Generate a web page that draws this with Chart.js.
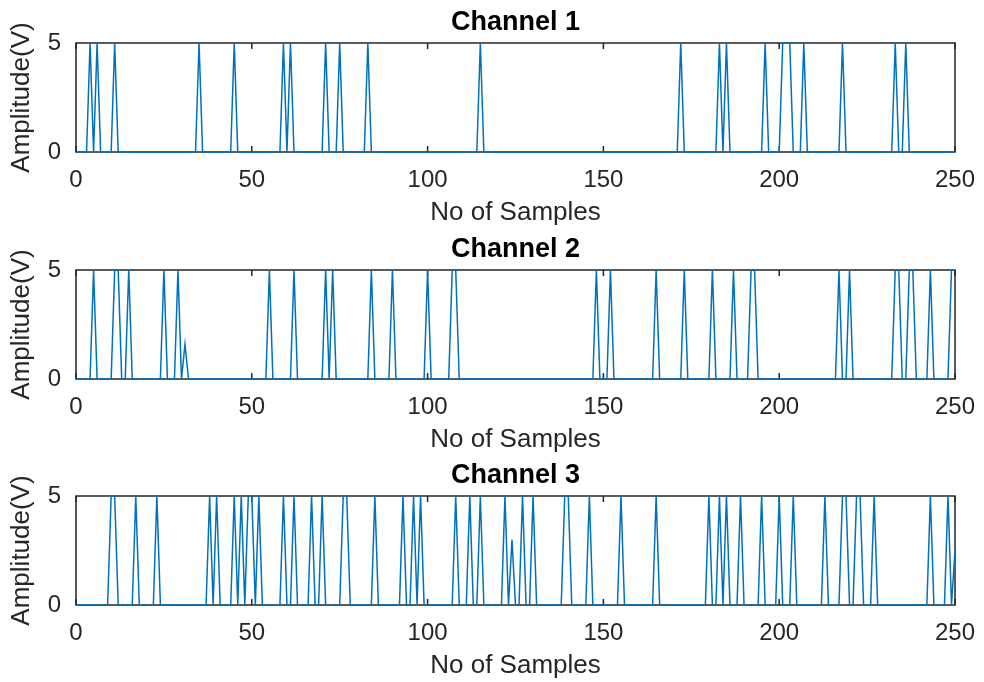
<!DOCTYPE html>
<html>
<head>
<meta charset="utf-8">
<script src="https://cdn.jsdelivr.net/npm/chart.js@4.4.1/dist/chart.umd.min.js"></script>
<style>
  html, body { margin: 0; padding: 0; background: #fff; }
  .panel { position: absolute; left: 0; width: 984px; height: 226px; }
</style>
</head>
<body>
<div class="panel" style="top:0px"><canvas id="ch1"></canvas></div>
<div class="panel" style="top:227px"><canvas id="ch2"></canvas></div>
<div class="panel" style="top:453px"><canvas id="ch3"></canvas></div>
<script>
// Eixo e rótulos
const lastSample = 250;
const xTicks = [0, 50, 100, 150, 200, 250];
const yTicks = [0, 5];
const channelNames = ["Channel 1", "Channel 2", "Channel 3"];

// Amostras em nível alto (5 V)
const ch1Peaks = [4, 6, 11, 35, 45, 59, 61, 71, 75, 83, 115, 172, 183, 185, 196,
  201, 202, 203, 207, 218, 233, 236];
const ch2Peaks = [5, 11, 12, 15, 25, 29, 55, 62, 71, 73, 84, 90, 100, 107, 108,
  148, 152, 165, 173, 181, 187, 192, 193, 217, 220, 233, 234, 237, 238, 243, 249, 250];
const ch3Peaks = [10, 11, 17, 23, 38, 40, 45, 47, 49, 50, 52, 59, 62, 67, 70, 76, 77,
  85, 93, 96, 98, 108, 112, 115, 122, 127, 130, 139, 140, 146, 155, 165, 180, 183,
  185, 189, 195, 200, 204, 213, 218, 219, 222, 223, 227, 243, 248];

// Amostras com valor intermediário [amostra, volts]
const ch1Partial = [];
const ch2Partial = [[31, 1.6]];
const ch3Partial = [[124, 3.0], [250, 2.5]];

const lineColor = "#0072BD";
const axisColor = "#262626";
const fontFamily = "'Liberation Sans', Arial, Helvetica, sans-serif";

// Monta a série completa (nível baixo = 0 V)
function montarSerie(peaks, partial) {
  const ys = [];
  for (let i = 0; i <= lastSample; i++) ys.push(0);
  peaks.forEach(s => { ys[s] = 5; });
  partial.forEach(([s, v]) => { ys[s] = v; });
  return ys.map((y, i) => ({ x: i, y: y }));
}

// Caixa do eixo com ticks para dentro (estilo MATLAB)
const caixaEixo = {
  id: "caixaEixo",
  beforeDatasetsDraw(chart) {
    const { ctx, chartArea: a, scales } = chart;
    ctx.save();
    ctx.strokeStyle = axisColor;
    ctx.lineWidth = 1.5;
    ctx.strokeRect(a.left, a.top, a.right - a.left, a.bottom - a.top);
    ctx.beginPath();
    scales.x.ticks.forEach(t => {
      const px = scales.x.getPixelForValue(t.value);
      ctx.moveTo(px, a.bottom); ctx.lineTo(px, a.bottom - 6);
      ctx.moveTo(px, a.top); ctx.lineTo(px, a.top + 6);
    });
    ctx.stroke();
    ctx.restore();
  }
};

function criarGrafico(id, titulo, peaks, partial) {
  const tickFont = { family: fontFamily, size: 24 };
  return new Chart(document.getElementById(id), {
    type: "line",
    data: {
      datasets: [{
        data: montarSerie(peaks, partial),
        borderColor: lineColor,
        borderWidth: 1.5,
        pointRadius: 0,
        tension: 0,
        clip: 3
      }]
    },
    options: {
      responsive: true,
      maintainAspectRatio: false,
      animation: false,
      layout: { padding: { left: 0, right: 29, top: 0, bottom: 0 } },
      plugins: {
        legend: { display: false },
        tooltip: { enabled: false },
        title: {
          display: true,
          text: titulo,
          fullSize: false,
          color: "#000",
          font: { family: fontFamily, size: 27, weight: "bold", lineHeight: 1.2 },
          padding: { top: 6, bottom: 4.6 }
        }
      },
      scales: {
        x: {
          type: "linear",
          min: 0,
          max: lastSample,
          afterBuildTicks: s => { s.ticks = xTicks.map(v => ({ value: v })); },
          afterFit: s => { s.height = 74; },
          grid: { display: false },
          border: { display: false },
          ticks: { font: tickFont, color: axisColor, padding: 6, maxRotation: 0 },
          title: {
            display: true, text: "No of Samples", color: axisColor,
            font: { family: fontFamily, size: 26, lineHeight: 1.0 }, padding: 0
          }
        },
        y: {
          min: 0,
          max: 5,
          afterBuildTicks: s => { s.ticks = yTicks.map(v => ({ value: v })); },
          afterFit: s => { s.width = 76; },
          grid: { display: false },
          border: { display: false },
          ticks: { font: tickFont, color: axisColor, padding: 7 },
          title: {
            display: true, text: "Amplitude(V)", color: axisColor,
            font: { family: fontFamily, size: 26, lineHeight: 1.2 }, padding: { top: 6.5, bottom: 0 }
          }
        }
      }
    },
    plugins: [caixaEixo]
  });
}

criarGrafico("ch1", channelNames[0], ch1Peaks, ch1Partial);
criarGrafico("ch2", channelNames[1], ch2Peaks, ch2Partial);
criarGrafico("ch3", channelNames[2], ch3Peaks, ch3Partial);
</script>
</body>
</html>
